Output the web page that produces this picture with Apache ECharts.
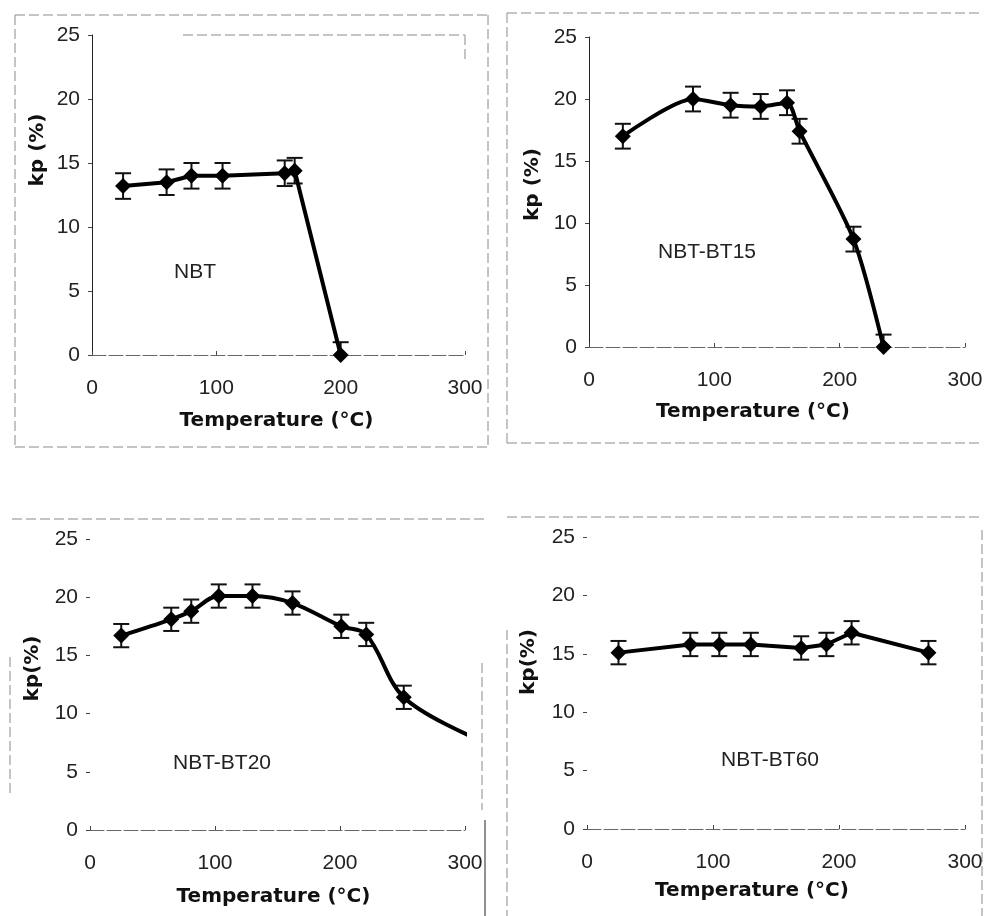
<!DOCTYPE html>
<html>
<head>
<meta charset="utf-8">
<script src="https://cdn.jsdelivr.net/npm/echarts@6/dist/echarts.min.js"></script>
<style>
html,body{margin:0;padding:0;background:#fff;}
#chart{width:987px;height:916px;}
</style>
</head>
<body>
<div id="chart"></div>
<script>
// ---- data ----
const xTickLabels = ['0', '100', '200', '300'];
const yTickLabels = ['0', '5', '10', '15', '20', '25'];

const nbtT   = [25, 60, 80, 105, 155, 163, 200];
const nbtKp  = [13.2, 13.5, 14.0, 14.0, 14.2, 14.4, 0.0];
const nbtErr = [1, 1, 1, 1, 1, 1, 1];

const bt15T   = [27, 83, 113, 137, 158, 168, 211, 235];
const bt15Kp  = [17.0, 20.0, 19.5, 19.4, 19.7, 17.4, 8.7, 0.0];
const bt15Err = [1, 1, 1, 1, 1, 1, 1, 1];

const bt20T   = [25, 65, 81, 103, 130, 162, 201, 221, 251];
const bt20Kp  = [16.7, 18.1, 18.8, 20.1, 20.1, 19.5, 17.5, 16.8, 11.4];
const bt20Err = [1, 1, 1, 1, 1, 1, 1, 1, 1];
const bt20TailT  = [306];
const bt20TailKp = [8.0];

const bt60T   = [25, 82, 105, 130, 170, 190, 210, 271];
const bt60Kp  = [15.1, 15.8, 15.8, 15.8, 15.5, 15.8, 16.8, 15.1];
const bt60Err = [1, 1, 1, 1, 1, 1, 1, 1];

const panelLabels = ['NBT', 'NBT-BT15', 'NBT-BT20', 'NBT-BT60'];
const yNames = ['kp (%)', 'kp (%)', 'kp(%)', 'kp(%)'];
const xName = 'Temperature (\u00B0C)';

// ---- layout ----
const grids = [
  {left: 92,  top: 35,  width: 373, height: 320},
  {left: 589, top: 37,  width: 376, height: 310},
  {left: 90,  top: 539, width: 375, height: 291},
  {left: 587, top: 537, width: 378, height: 292}
];
const xNameGap = [56, 55, 57, 52];
const xNameShift = [4, 48, 8, 48];
const yNameGap = [44, 46, 47, 48];
const yNameShift = [90, 15, 32, 42];

const panels = [
  {t: nbtT,  k: nbtKp,  e: nbtErr},
  {t: bt15T, k: bt15Kp, e: bt15Err},
  {t: bt20T, k: bt20Kp, e: bt20Err, tailT: bt20TailT, tailK: bt20TailKp},
  {t: bt60T, k: bt60Kp, e: bt60Err}
];
const smoothVals = [0, 0.25, 0.35, 0];

const tickFont = 'Liberation Sans';
const boldFont = 'DejaVu Sans';

function errRender(params, api) {
  const x = api.value(0), y = api.value(1), e = api.value(2);
  const lo = Math.max(0, y - e);
  const top = api.coord([x, y + e]);
  const bot = api.coord([x, lo]);
  const hw = 8;
  const st = {stroke: '#111', lineWidth: 2};
  const ch = [
    {type: 'line', shape: {x1: top[0], y1: top[1], x2: bot[0], y2: bot[1]}, style: st},
    {type: 'line', shape: {x1: top[0] - hw, y1: top[1], x2: top[0] + hw, y2: top[1]}, style: st}
  ];
  if (y - e >= 0) {
    ch.push({type: 'line', shape: {x1: bot[0] - hw, y1: bot[1], x2: bot[0] + hw, y2: bot[1]}, style: st});
  }
  return {type: 'group', children: ch};
}

const xAxes = [], yAxes = [], series = [];
grids.forEach((g, i) => {
  xAxes.push({
    type: 'value', gridIndex: i, min: 0, max: 300, interval: 100,
    name: xName, nameLocation: 'middle', nameGap: xNameGap[i],
    nameTextStyle: {fontFamily: boldFont, fontWeight: 'bold', fontSize: 20, color: '#111',
                    padding: [0, xNameShift[i], 0, 0]},
    axisLine: {show: true, onZero: false, lineStyle: {color: '#666', width: 1, type: [14, 3]}},
    axisTick: {show: true, length: 4, inside: true, lineStyle: {color: '#444'}},
    axisLabel: {margin: 23, fontFamily: tickFont, fontSize: 21, color: '#222',
                formatter: v => xTickLabels[Math.round(v / 100)]},
    splitLine: {show: false}
  });
  yAxes.push({
    type: 'value', gridIndex: i, min: 0, max: 25, interval: 5,
    name: yNames[i], nameLocation: 'middle', nameGap: yNameGap[i], nameRotate: 90,
    nameTextStyle: {fontFamily: boldFont, fontWeight: 'bold', fontSize: 20, color: '#111',
                    padding: [0, 0, 0, yNameShift[i]]},
    axisLine: {show: i < 2, lineStyle: {color: '#222', width: 1}},
    axisTick: {show: true, length: 4, lineStyle: {color: '#444'}},
    axisLabel: {margin: 12, fontFamily: tickFont, fontSize: 21, color: '#222',
                formatter: v => yTickLabels[Math.round(v / 5)]},
    splitLine: {show: false}
  });
  const p = panels[i];
  const lineData = p.t.map((t, j) => [t, p.k[j]]);
  if (p.tailT) {
    p.tailT.forEach((t, j) => lineData.push({value: [t, p.tailK[j]], symbol: 'none'}));
  }
  series.push({
    type: 'custom', xAxisIndex: i, yAxisIndex: i, z: 2,
    renderItem: errRender,
    data: p.t.map((t, j) => [t, p.k[j], p.e[j]]),
    clip: false
  });
  series.push({
    type: 'line', xAxisIndex: i, yAxisIndex: i, z: 3,
    data: lineData, smooth: smoothVals[i], clip: false,
    symbol: 'diamond', symbolSize: 16,
    itemStyle: {color: '#000'},
    lineStyle: {color: '#000', width: 4},
    animation: false
  });
});

const dash = {stroke: '#8a8a8a', lineWidth: 1, lineDash: [10, 4]};
function ln(x1, y1, x2, y2, st) {
  return {type: 'line', silent: true, shape: {x1, y1, x2, y2}, style: st || dash};
}
const lblFont = '21px "Liberation Sans"';
const graphics = [
  // panel borders (scanned frame)
  ln(15, 15, 488, 15), ln(15, 15, 15, 447), ln(15, 447, 488, 447), ln(488, 15, 488, 447),
  ln(507, 13, 983, 13), ln(507, 13, 507, 443), ln(507, 443, 983, 443),
  ln(12, 519, 485, 519), ln(10, 657, 10, 797), ln(482, 663, 482, 810),
  ln(485, 820, 485, 916, {stroke: '#222', lineWidth: 1}),
  ln(507, 517, 983, 517), ln(507, 630, 507, 916), ln(982, 530, 982, 916),
  // top-left plot frame remnants
  ln(183, 35, 465, 35), ln(465, 35, 465, 60),
  // panel labels
  {type: 'text', x: 195, y: 272, style: {text: panelLabels[0], font: lblFont, fill: '#222', align: 'center', verticalAlign: 'middle'}},
  {type: 'text', x: 707, y: 252, style: {text: panelLabels[1], font: lblFont, fill: '#222', align: 'center', verticalAlign: 'middle'}},
  {type: 'text', x: 222, y: 763, style: {text: panelLabels[2], font: lblFont, fill: '#222', align: 'center', verticalAlign: 'middle'}},
  {type: 'text', x: 770, y: 760, style: {text: panelLabels[3], font: lblFont, fill: '#222', align: 'center', verticalAlign: 'middle'}}
];

const chart = echarts.init(document.getElementById('chart'), null, {renderer: 'canvas'});
chart.setOption({
  backgroundColor: '#fff',
  animation: false,
  grid: grids,
  xAxis: xAxes,
  yAxis: yAxes,
  series: series,
  graphic: graphics
});
</script>
</body>
</html>
